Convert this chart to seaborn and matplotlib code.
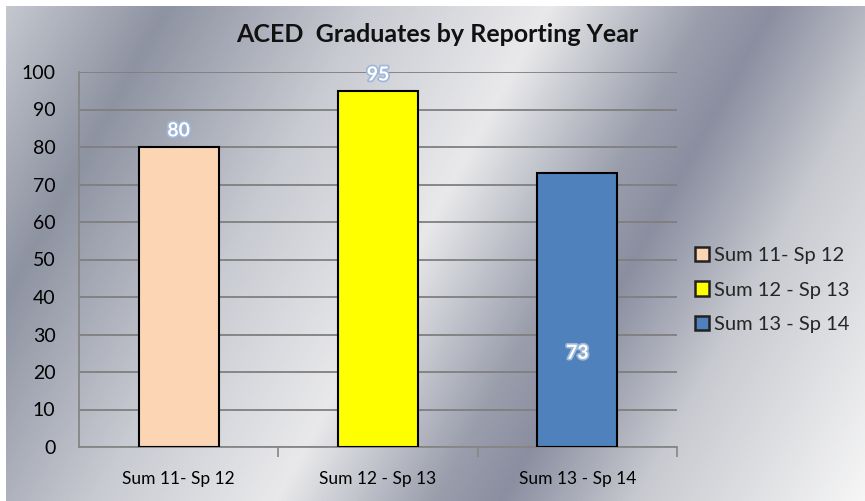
import numpy as np
import pandas as pd
import matplotlib
matplotlib.use("Agg")
import matplotlib.pyplot as plt
import matplotlib.patheffects as pe
from matplotlib.colors import LinearSegmentedColormap
import seaborn as sns

categories = ["Sum 11- Sp 12", "Sum 12 - Sp 13", "Sum 13 - Sp 14"]
values = [80, 95, 73]
colors = ["#FCD5B5", "#FFFF00", "#4F81BD"]
title = "ACED  Graduates by Reporting Year"

sns.set_theme(style="white")
plt.rcParams["font.family"] = ["Lato", "DejaVu Sans"]

W, H = 865, 501
fig = plt.figure(figsize=(W / 100, H / 100), dpi=100)
fig.patch.set_facecolor("white")

# metallic gradient background
bg = fig.add_axes([6 / W, 0, 1 - 6 / W, 1 - 6 / H], zorder=-10)
xx, yy = np.meshgrid(np.arange(W), np.arange(H))
t = (xx + 0.55 * yy) / (W + 0.55 * H)
cmap = LinearSegmentedColormap.from_list(
    "silver",
    [(0.0, "#c4c7ce"), (0.14, "#8e93a2"), (0.32, "#c9cbd2"), (0.48, "#e9e9eb"),
     (0.62, "#9a9eac"), (0.68, "#8a8ea0"), (0.80, "#c8cad0"), (1.0, "#f6f6f6")])
bg.imshow(t, cmap=cmap, aspect="auto", interpolation="bilinear")
bg.set_axis_off()

ax = fig.add_axes([79 / W, 1 - 447 / H, (677 - 79) / W, (447 - 72) / H])
ax.set_facecolor("none")

df = pd.DataFrame({"Period": categories, "Graduates": values})
sns.barplot(data=df, x="Period", y="Graduates", hue="Period", palette=colors,
            saturation=1, dodge=False, width=0.4, edgecolor="black", linewidth=1.5,
            legend=True, ax=ax, zorder=3)

ax.set_ylim(0, 100)
ax.set_xlim(-0.5, 2.5)
ax.set_yticks(range(0, 101, 10))
ax.yaxis.grid(True, color="#7f7f7f", linewidth=1.3, zorder=0)
ax.set_axisbelow(True)
for s in ["top", "right"]:
    ax.spines[s].set_visible(False)
for s in ["left", "bottom"]:
    ax.spines[s].set_color("#868686")
    ax.spines[s].set_linewidth(1.3)
ax.set_xlabel("")
ax.set_ylabel("")
ax.tick_params(axis="y", length=5, color="#868686", width=1.2, labelsize=14, pad=12, labelcolor="black")
ax.tick_params(axis="x", length=0, labelsize=12.5, pad=17, labelcolor="black")
ax.set_xticks([0, 1, 2])
ax.set_xticklabels(categories)
ax.set_xticks([0.5, 1.5, 2.5], minor=True)
ax.tick_params(axis="x", which="minor", length=7, color="#868686", width=1.2, bottom=True)

glow = [pe.withStroke(linewidth=2.5, foreground="#9fb8d8")]
label_pos = [84.3, 99.2, 25]
for i, (v, yp) in enumerate(zip(values, label_pos)):
    ax.text(i, yp, str(v), ha="center", va="center", color="white", fontsize=14,
            fontweight="bold", path_effects=glow, zorder=5)

fig.text(437 / W, 1 - 35 / H, title, ha="center", va="center", fontsize=18,
         fontweight="bold", color="#111111")

handles, labels = ax.get_legend_handles_labels()
leg = ax.legend(handles, labels, loc="center left", bbox_to_anchor=(687 / W, 1 - 290 / H),
                bbox_transform=fig.transFigure, frameon=False, fontsize=14.5,
                handlelength=0.7, handleheight=0.7, handletextpad=0.25, labelspacing=0.85,
                borderaxespad=0)
for h in leg.legend_handles:
    h.set_linewidth(1.8)
    h.set_edgecolor("#222222")

fig.savefig("out.png", dpi=100)
